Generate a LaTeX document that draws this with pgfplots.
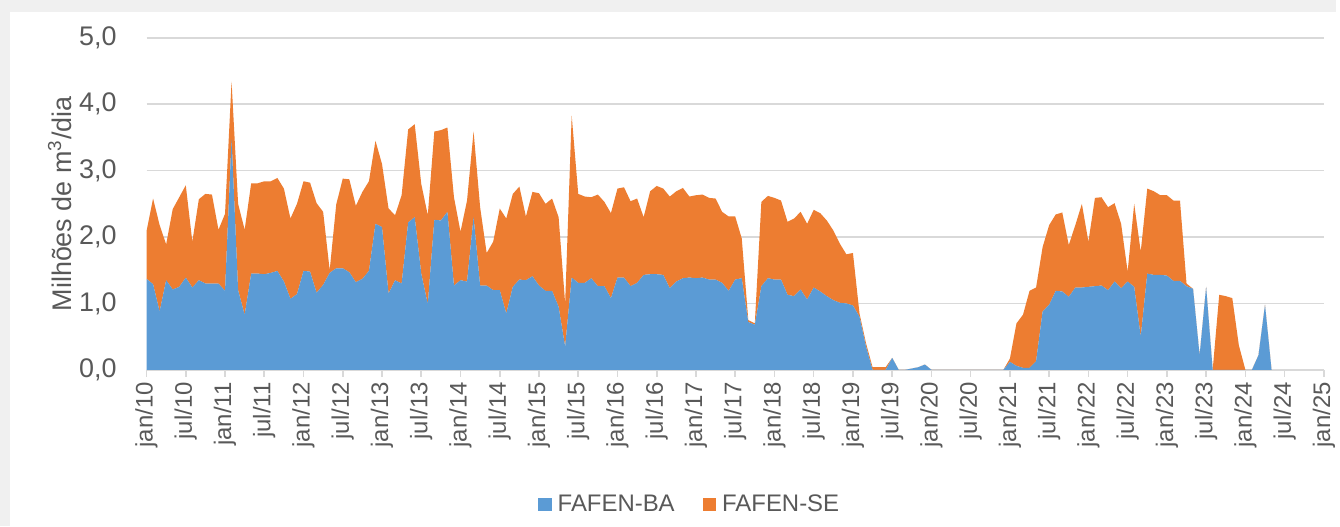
\documentclass[border=0pt]{standalone}
\usepackage{pgfplots}
\usepackage{pgfplotstable}
\pgfplotsset{compat=1.18}
\usepackage{fontspec}
\setmainfont{Liberation Sans}
\definecolor{ba}{HTML}{5B9BD5}
\definecolor{se}{HTML}{ED7D31}
\definecolor{gridgray}{HTML}{D9D9D9}
\definecolor{txt}{HTML}{595959}
\definecolor{bggray}{HTML}{F0F0F0}

\pgfplotstableread{
m ba se
0 1.37 0.72
1 1.29 1.29
2 0.88 1.30
3 1.35 0.54
4 1.21 1.21
5 1.25 1.35
6 1.39 1.39
7 1.24 0.69
8 1.35 1.22
9 1.30 1.35
10 1.30 1.34
11 1.30 0.81
12 1.19 1.16
13 3.48 0.86
14 1.20 1.30
15 0.83 1.28
16 1.45 1.36
17 1.45 1.36
18 1.44 1.40
19 1.46 1.38
20 1.49 1.40
21 1.33 1.40
22 1.07 1.21
23 1.14 1.36
24 1.49 1.35
25 1.48 1.34
26 1.16 1.35
27 1.28 1.10
28 1.46 0.04
29 1.53 0.96
30 1.53 1.35
31 1.47 1.40
32 1.32 1.15
33 1.37 1.31
34 1.49 1.35
35 2.20 1.25
36 2.15 0.95
37 1.15 1.28
38 1.35 0.98
39 1.30 1.33
40 2.22 1.40
41 2.30 1.40
42 1.45 1.35
43 0.99 1.34
44 2.26 1.33
45 2.25 1.36
46 2.38 1.27
47 1.27 1.33
48 1.35 0.73
49 1.33 1.22
50 2.30 1.29
51 1.27 1.18
52 1.27 0.49
53 1.20 0.73
54 1.20 1.23
55 0.85 1.43
56 1.25 1.40
57 1.36 1.40
58 1.35 0.96
59 1.41 1.27
60 1.27 1.39
61 1.19 1.31
62 1.19 1.39
63 0.95 1.35
64 0.35 0.65
65 1.39 2.44
66 1.31 1.34
67 1.31 1.30
68 1.38 1.22
69 1.26 1.38
70 1.26 1.27
71 1.08 1.28
72 1.39 1.34
73 1.39 1.36
74 1.26 1.28
75 1.31 1.27
76 1.43 0.87
77 1.44 1.25
78 1.44 1.33
79 1.43 1.30
80 1.23 1.38
81 1.33 1.36
82 1.38 1.36
83 1.39 1.22
84 1.38 1.25
85 1.39 1.25
86 1.36 1.23
87 1.36 1.22
88 1.31 1.07
89 1.19 1.12
90 1.36 0.95
91 1.38 0.60
92 0.72 0.03
93 0.68 0.02
94 1.26 1.27
95 1.38 1.24
96 1.36 1.23
97 1.36 1.19
98 1.13 1.10
99 1.11 1.17
100 1.21 1.17
101 1.06 1.14
102 1.24 1.17
103 1.18 1.18
104 1.11 1.14
105 1.05 1.05
106 1.01 0.89
107 1.00 0.74
108 0.97 0.79
109 0.80 0.05
110 0.35 0.05
111 0.00 0.04
112 0.00 0.04
113 0.00 0.04
114 0.18 0.00
115 0.00 0.00
116 0.00 0.00
117 0.02 0.00
118 0.04 0.00
119 0.08 0.00
120 0.00 0.00
121 0.00 0.00
122 0.00 0.00
123 0.00 0.00
124 0.00 0.00
125 0.00 0.00
126 0.00 0.00
127 0.00 0.00
128 0.00 0.00
129 0.00 0.00
130 0.00 0.00
131 0.00 0.00
132 0.12 0.05
133 0.06 0.64
134 0.03 0.80
135 0.03 1.16
136 0.13 1.11
137 0.88 0.97
138 0.98 1.20
139 1.19 1.15
140 1.18 1.19
141 1.10 0.78
142 1.24 0.94
143 1.24 1.26
144 1.25 0.68
145 1.26 1.33
146 1.27 1.33
147 1.20 1.25
148 1.33 1.18
149 1.23 0.97
150 1.33 0.15
151 1.25 1.25
152 0.50 1.28
153 1.45 1.28
154 1.43 1.26
155 1.43 1.20
156 1.42 1.21
157 1.34 1.21
158 1.34 1.21
159 1.26 0.04
160 1.22 0.00
161 0.22 0.00
162 1.25 0.00
163 0.00 0.00
164 0.00 1.13
165 0.00 1.11
166 0.00 1.08
167 0.00 0.37
168 0.00 0.00
169 0.00 0.00
170 0.22 0.00
171 0.98 0.00
172 0.00 0.00
}\datatable

\begin{document}
\begin{tikzpicture}
\fill[bggray] (0,0) rectangle (670bp,264bp);
\fill[white] (5bp,0) rectangle (670bp,258bp);
\begin{axis}[
  at={(73.5bp,78.5bp)}, anchor=south west,
  scale only axis, width=590.5bp, height=166.5bp,
  xmin=0, xmax=180, ymin=0, ymax=5,
  stack plots=y,
  axis x line*=bottom, axis y line*=left,
  x axis line style={draw=gridgray, line width=0.8bp},
  y axis line style={draw=none},
  ymajorgrids, grid style={draw=gridgray, line width=0.8bp},
  xtick={0,6,...,180},
  xticklabels={jan/10,jul/10,jan/11,jul/11,jan/12,jul/12,jan/13,jul/13,jan/14,jul/14,jan/15,jul/15,jan/16,jul/16,jan/17,jul/17,jan/18,jul/18,jan/19,jul/19,jan/20,jul/20,jan/21,jul/21,jan/22,jul/22,jan/23,jul/23,jan/24,jul/24,jan/25},
  xticklabel style={rotate=90, anchor=east, font=\fontsize{12bp}{14bp}\selectfont, text=txt, inner sep=2.5bp},
  xtick style={draw=gridgray, line width=0.8bp},
  tick align=outside, major tick length=3.5bp,
  ytick={0,1,2,3,4,5},
  yticklabels={{0,0},{1,0},{2,0},{3,0},{4,0},{5,0}},
  yticklabel style={font=\fontsize{13.5bp}{15bp}\selectfont, text=txt, xshift=-8bp},
  ytick style={draw=none},
  ylabel={Milhões de m\textsuperscript{3}/dia},
  every axis y label/.style={at={(axis description cs:-0.0737,0.5)}, rotate=90, anchor=center, font=\fontsize{13.5bp}{15bp}\selectfont, text=txt},
  legend style={at={(axis description cs:0.463,-0.405)}, anchor=center, draw=none, fill=none,
    legend columns=2, font=\fontsize{12bp}{14bp}\selectfont, text=txt,
    /tikz/every even column/.append style={column sep=11bp},
    nodes={inner xsep=3bp}},
  legend image code/.code={\fill[#1] (0bp,-3.4bp) rectangle (6.8bp,3.4bp);},
  clip=false,
]
\addplot[fill=ba, draw=none] table[x=m, y=ba] {\datatable} \closedcycle;
\addplot[fill=se, draw=none] table[x=m, y=se] {\datatable} \closedcycle;
\legend{FAFEN-BA, FAFEN-SE}
\end{axis}
\end{tikzpicture}
\end{document}
